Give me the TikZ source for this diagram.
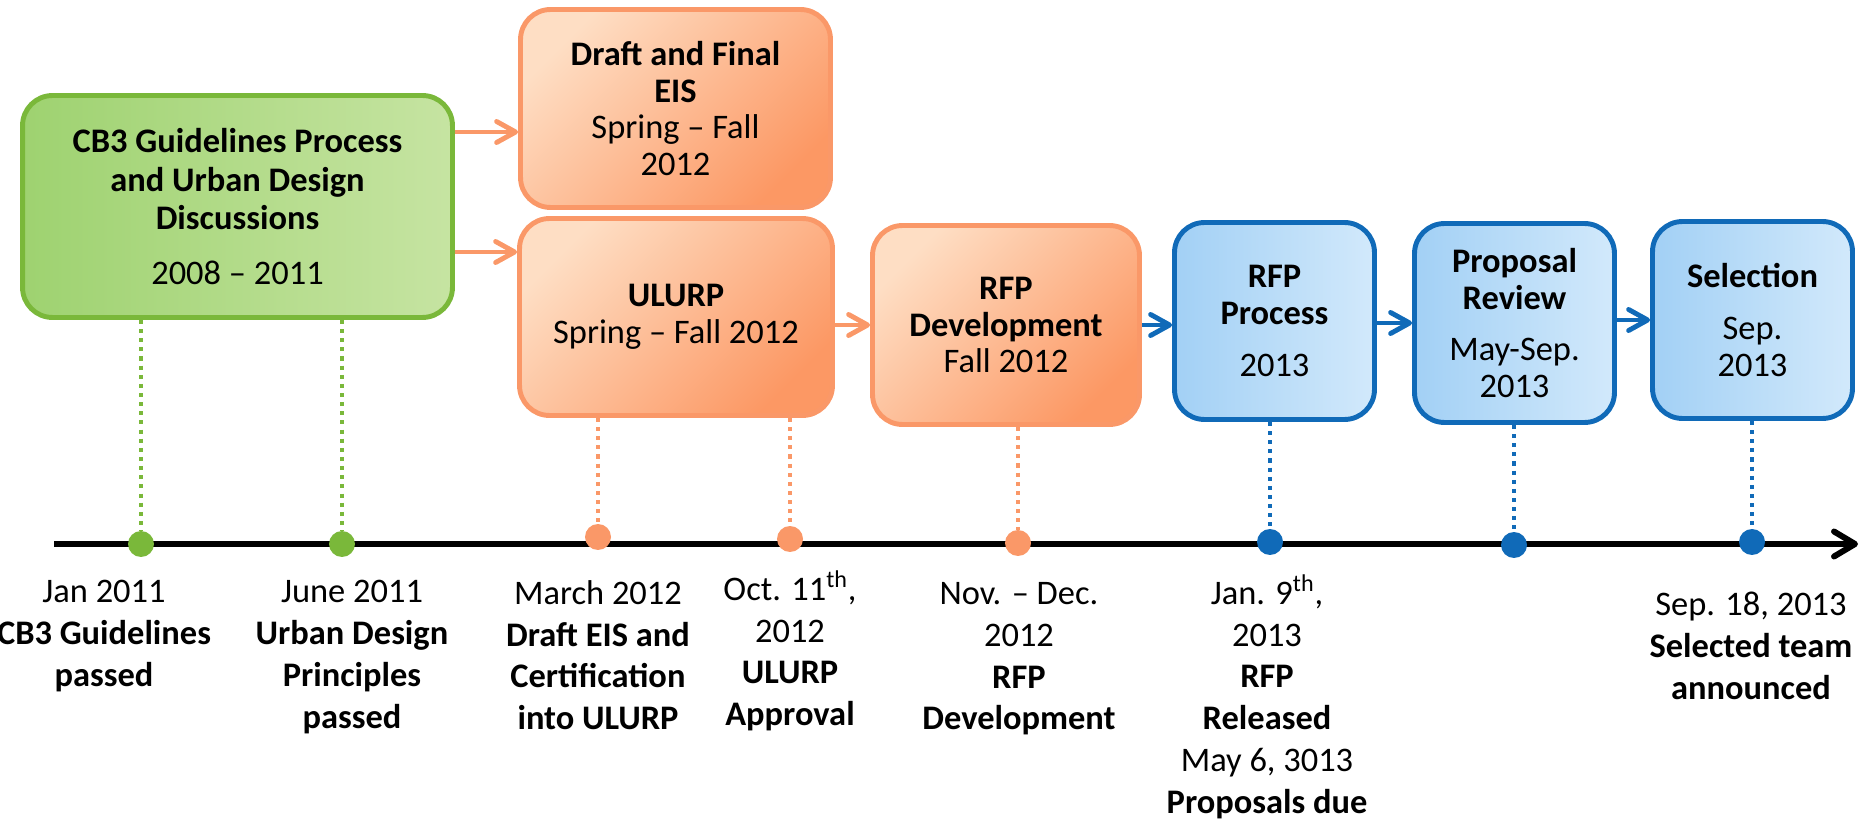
\documentclass[tikz,border=0pt]{standalone}
\usepackage{fontspec}
\setmainfont{Carlito}
\usetikzlibrary{arrows.meta}

\definecolor{leafgreen}{RGB}{122,184,58}
\definecolor{leaflight}{RGB}{198,228,162}
\definecolor{leafdark}{RGB}{158,210,112}
\definecolor{salmon}{RGB}{250,152,104}
\definecolor{salmonlight}{RGB}{254,222,196}
\definecolor{salmondark}{RGB}{252,152,100}
\definecolor{sky}{RGB}{16,106,184}
\definecolor{skylight}{RGB}{210,233,251}
\definecolor{skydark}{RGB}{162,208,245}

\newcommand\boxfont{\fontsize{19.6}{21}\selectfont}
\newcommand\datefont{\fontsize{19.6}{23.8}\selectfont}

\begin{document}
\begin{tikzpicture}[
    x=0.02cm,
    y=-0.02cm,
    stage/.style={draw, line width=2.8pt, rounded corners=0.6cm, align=center,
        inner sep=0pt, font=\boxfont},
    greenstage/.style={stage, draw=leafgreen, left color=leafdark,
        middle color=leaflight, right color=leaflight},
    orangestage/.style={stage, draw=salmon, top color=salmonlight,
        bottom color=salmondark, shading angle=45},
    bluestage/.style={stage, draw=sky, left color=skydark,
        middle color=skylight, right color=skylight},
    flow/.style={line width=2.8pt,
        -{Straight Barb[length=0.38cm, width=0.42cm, line cap=round, line join=round]}},
    stem/.style={line width=2.3pt, dash pattern=on 2.3pt off 2.9pt},
    dot/.style={circle, fill=#1, inner sep=0pt, minimum size=0.52cm},
    date/.style={align=center, font=\datefont, anchor=north, inner sep=0pt}
]
    \useasboundingbox (0,0) rectangle (1860,820);

    % stages
    \node[greenstage, minimum width=8.6cm, minimum height=4.44cm] (cbthree) at (237.5,206.5)
        {\textbf{CB3 Guidelines Process}\\[1pt]\textbf{and Urban Design}\\[1pt]\textbf{Discussions}\\[10pt]2008 \textendash{} 2011};
    \node[orangestage, minimum width=6.2cm, minimum height=3.96cm] (draft) at (675.5,108.5)
        {\textbf{Draft and Final}\\\textbf{EIS}\\Spring \textendash{} Fall\\2012};
    \node[orangestage, minimum width=6.26cm, minimum height=3.94cm] (ulurp) at (676,317)
        {\textbf{ULURP}\\Spring \textendash{} Fall 2012};
    \node[orangestage, minimum width=5.34cm, minimum height=3.98cm] (rfpdev) at (1006,325)
        {\textbf{RFP}\\\textbf{Development}\\Fall 2012};
    \node[bluestage, minimum width=4cm, minimum height=3.94cm] (rfpproc) at (1274.5,321)
        {\textbf{RFP}\\\textbf{Process}\\[8.5pt]2013};
    \node[bluestage, minimum width=4cm, minimum height=3.98cm] (review) at (1514.5,323)
        {\textbf{Proposal}\\\textbf{Review}\\[8.5pt]May-Sep.\\2013};
    \node[bluestage, minimum width=4cm, minimum height=3.94cm] (selection) at (1752.5,320)
        {\textbf{Selection}\\[8.5pt]Sep.\\2013};

    % arrows between stages
    \draw[flow, salmon] (cbthree.east |- 0,132) -- (draft.west |- 0,132);
    \draw[flow, salmon] (cbthree.east |- 0,252) -- (ulurp.west |- 0,252);
    \draw[flow, salmon] (ulurp.east |- rfpdev.west) -- (rfpdev.west);
    \draw[flow, sky] (rfpdev.east) -- (rfpproc.west |- rfpdev.east);
    \draw[flow, sky] (rfpproc.east |- review.west) -- (review.west);
    \draw[flow, sky] (review.east |- selection.west) -- (selection.west);

    % time axis
    \coordinate (tstart) at (54,544);
    \coordinate (tend) at (1858,544);
    \draw[line width=3.4pt,
        -{Straight Barb[length=0.42cm, width=0.5cm, line cap=round, line join=round]}]
        (tstart) -- (tend);

    \node[dot=leafgreen] (jan) at (141,544) {};
    \node[dot=leafgreen] (june) at (342,544) {};
    \node[dot=salmon] (march) at (598,537) {};
    \node[dot=salmon] (oct) at (790,539) {};
    \node[dot=salmon] (nov) at (1018,543) {};
    \node[dot=sky] (jannine) at (1270,542) {};
    \node[dot=sky] (may) at (1514,545) {};
    \node[dot=sky] (sep) at (1752,542) {};

    \draw[stem, leafgreen] (cbthree.south -| jan) -- (jan.north);
    \draw[stem, leafgreen] (cbthree.south -| june) -- (june.north);
    \draw[stem, salmon] (ulurp.south -| march) -- (march.north);
    \draw[stem, salmon] (ulurp.south -| oct) -- (oct.north);
    \draw[stem, salmon] (rfpdev.south -| nov) -- (nov.north);
    \draw[stem, sky] (rfpproc.south -| jannine) -- (jannine.north);
    \draw[stem, sky] (review.south -| may) -- (may.north);
    \draw[stem, sky] (selection.south -| sep) -- (sep.north);

    % milestones
    \node[date] (janlabel) at (104,580)
        {Jan 2011\\\textbf{CB3 Guidelines}\\\textbf{passed}};
    \node[date] (junelabel) at (352,580)
        {June 2011\\\textbf{Urban Design}\\\textbf{Principles}\\\textbf{passed}};
    \node[date] (marchlabel) at (598,580)
        {March 2012\\\textbf{Draft EIS and}\\\textbf{Certification}\\\textbf{into ULURP}};
    \node[date] (octlabel) at (790,570)
        {Oct. 11\textsuperscript{th},\\2012\\\textbf{ULURP}\\\textbf{Approval}};
    \node[date] (novlabel) at (1019,582)
        {Nov. \textendash{} Dec.\\2012\\\textbf{RFP}\\\textbf{Development}};
    \node[date] (janninelabel) at (1267,574)
        {Jan. 9\textsuperscript{th},\\2013\\\textbf{RFP}\\\textbf{Released}\\May 6, 3013\\\textbf{Proposals due}};
    \node[date] (seplabel) at (1751,592)
        {Sep. 18, 2013\\\textbf{Selected team}\\\textbf{announced}};
\end{tikzpicture}
\end{document}
